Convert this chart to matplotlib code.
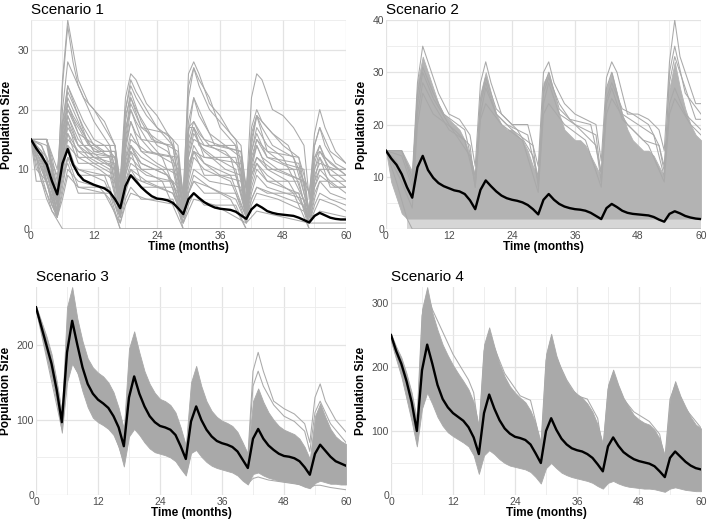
import matplotlib

matplotlib.use("Agg")
import matplotlib.pyplot as plt
from matplotlib.ticker import MultipleLocator

MONTHS = list(range(61))

# mean trajectories (black), one value per month
S1_MEAN = [15, 13.5, 12.3, 10.8, 8, 5.8, 11, 13.4, 10.8, 9.2, 8.2, 7.8, 7.4, 7.1, 6.8, 6.2, 5, 3.5,
           7.2, 9, 8, 7, 6.2, 5.5, 5.1, 5, 4.8, 4.4, 3.5, 2.5, 5, 6, 5.2, 4.5, 4, 3.6, 3.4, 3.3, 3.2,
           2.9, 2.3, 1.7, 3.3, 4.1, 3.6, 3.0, 2.7, 2.5, 2.4, 2.3, 2.2, 1.9, 1.5, 1.1, 2.2, 2.7, 2.3,
           1.9, 1.7, 1.6, 1.6]
S2_MEAN = [15, 13.5, 12.3, 10.5, 8, 6, 11.8, 14, 11.3, 9.8, 8.8, 8.2, 7.8, 7.4, 7.2, 6.7, 5.5, 3.8,
           7.5, 9.3, 8.2, 7.2, 6.4, 5.9, 5.6, 5.4, 5.1, 4.6, 3.8, 2.8, 5.6, 6.7, 5.6, 4.8, 4.3, 4.0,
           3.8, 3.7, 3.5, 3.1, 2.5, 1.9, 4.0, 4.8, 4.2, 3.5, 3.1, 2.9, 2.8, 2.7, 2.6, 2.3, 1.8, 1.4,
           2.9, 3.4, 3.0, 2.5, 2.2, 2.0, 1.9]
S3_MEAN = [250, 225, 200, 175, 140, 97, 190, 232, 200, 170, 148, 135, 127, 122, 116, 105, 90, 65,
           130, 158, 135, 118, 105, 97, 92, 90, 87, 80, 65, 48, 98, 118, 100, 87, 78, 72, 69, 67, 64,
           58, 47, 36, 75, 88, 75, 66, 60, 55, 52, 51, 49, 45, 37, 27, 55, 67, 59, 51, 45, 42, 39]
S4_MEAN = [250, 225, 205, 178, 145, 100, 195, 235, 205, 172, 150, 137, 128, 122, 116, 106, 90, 64,
           128, 157, 135, 117, 104, 96, 91, 89, 86, 79, 65, 50, 100, 120, 102, 88, 79, 73, 70, 68, 64,
           58, 48, 37, 76, 90, 77, 67, 61, 56, 53, 51, 49, 45, 37, 28, 58, 68, 60, 52, 46, 42, 40]

# dense part of the simulated runs (upper / lower edge per month)
S2_UPPER = [15, 15, 15, 15, 13, 11, 28, 33, 30, 27, 24, 22, 21, 20, 19, 17, 14, 10, 26, 30, 26, 22,
            20, 19, 19, 18, 17, 15, 12, 10, 28, 30, 26, 22, 19, 18, 17, 17, 16, 14, 12, 10, 27, 30,
            26, 22, 19, 17, 16, 15, 15, 14, 12, 10, 27, 32, 27, 23, 20, 18, 17]
S2_LOWER = [15, 9, 6, 3, 2, 2, 2, 2, 2, 2, 2, 2, 2, 2, 2, 2, 2, 2, 2, 2, 2, 2, 2, 2, 2, 2, 2, 2, 2,
            2, 2, 2, 2, 2, 2, 2, 2, 2, 2, 2, 2, 2, 2, 2, 2, 2, 2, 2, 2, 2, 2, 2, 2, 2, 2, 2, 2, 2, 2,
            2, 2]
S3_UPPER = [252, 232, 212, 188, 152, 110, 250, 277, 235, 205, 182, 170, 163, 158, 150, 137, 116, 88,
            195, 218, 190, 165, 148, 136, 128, 125, 120, 110, 90, 66, 150, 172, 145, 125, 112, 104, 99,
            96, 92, 84, 70, 55, 125, 142, 124, 110, 100, 92, 87, 84, 81, 75, 64, 48, 105, 122, 104, 88,
            78, 72, 68]
S3_LOWER = [246, 218, 188, 158, 124, 83, 150, 175, 163, 138, 117, 103, 97, 93, 88, 80, 64, 38, 78,
            88, 80, 70, 62, 57, 55, 53, 50, 45, 35, 26, 56, 60, 51, 44, 39, 36, 34, 32, 30, 26, 19, 14,
            28, 30, 26, 23, 21, 19, 18, 17, 16, 14, 11, 9, 16, 19, 17, 15, 15, 14, 14]
S4_UPPER = [252, 232, 215, 190, 160, 118, 290, 325, 285, 258, 235, 218, 203, 190, 178, 165, 145, 108,
            235, 262, 232, 205, 185, 170, 160, 152, 145, 132, 112, 82, 220, 252, 218, 195, 178, 165,
            158, 152, 143, 130, 110, 80, 172, 196, 172, 152, 138, 125, 118, 113, 110, 102, 88, 62, 150,
            178, 155, 138, 122, 110, 104]
S4_LOWER = [240, 212, 185, 150, 115, 76, 135, 160, 142, 122, 108, 98, 92, 87, 82, 76, 62, 33, 62, 70,
            64, 56, 50, 46, 44, 42, 40, 36, 28, 18, 42, 50, 42, 35, 31, 28, 26, 24, 22, 19, 14, 10, 19,
            22, 18, 15, 13, 12, 11, 10, 10, 9, 7, 5, 10, 12, 10, 8, 7, 6, 6]

# individual runs, (month, size) at the corners of each trajectory
S1_RUNS = [
    [(0, 15), (3, 15), (5, 6), (6, 25), (7, 35), (8, 30), (9, 25), (11, 21), (12, 20), (14, 17), (16, 14),
     (17, 8), (18, 22), (19, 26), (20, 25), (22, 21), (24, 19), (26, 16), (28, 14), (29, 5), (30, 26),
     (31, 28), (32, 26), (34, 21), (36, 19), (38, 16), (40, 14), (41, 6), (42, 22), (43, 26), (44, 25),
     (46, 20), (48, 19), (50, 17), (52, 14), (53, 5), (54, 16), (55, 20), (56, 17), (58, 13), (60, 11)],
    [(0, 15), (2, 14), (4, 9), (5, 5), (6, 20), (7, 28), (8, 26), (10, 22), (12, 18), (15, 14), (17, 6),
     (18, 20), (19, 25), (20, 23), (22, 20), (24, 17), (27, 14), (29, 4), (30, 22), (31, 27), (32, 25),
     (34, 22), (36, 17), (39, 14), (41, 5), (42, 17), (43, 20), (44, 18), (46, 16), (48, 14), (51, 12),
     (53, 3), (54, 14), (55, 17), (56, 14), (58, 11), (60, 10)],
    [(0, 15), (1, 14), (3, 10), (5, 4), (6, 17), (7, 24), (8, 22), (10, 18), (12, 15), (14, 14), (16, 12),
     (17, 5), (18, 16), (19, 22), (20, 20), (22, 17), (24, 14), (26, 13), (28, 10), (29, 3), (30, 16),
     (31, 22), (32, 19), (34, 16), (37, 14), (40, 12), (41, 4), (42, 16), (43, 19), (44, 17), (46, 14),
     (50, 12), (53, 3), (54, 11), (55, 14), (56, 12), (60, 9)],
    [(0, 15), (2, 12), (4, 6), (5, 3), (6, 16), (7, 23), (8, 21), (10, 17), (12, 14), (15, 12), (17, 4),
     (18, 14), (19, 20), (20, 18), (22, 15), (25, 12), (29, 3), (30, 15), (31, 18), (32, 16), (34, 14),
     (38, 12), (41, 3), (42, 12), (43, 15), (45, 13), (48, 11), (52, 10), (53, 2), (54, 10), (55, 13),
     (57, 10), (60, 8)],
    [(0, 15), (3, 15), (4, 12), (5, 8), (6, 15), (7, 21), (8, 19), (10, 16), (12, 13), (16, 12), (17, 4),
     (18, 13), (19, 18), (20, 16), (23, 13), (27, 11), (29, 2), (30, 13), (31, 17), (32, 14), (35, 12),
     (39, 10), (41, 2), (42, 10), (43, 14), (44, 12), (47, 10), (52, 8), (53, 2), (54, 8), (55, 12),
     (57, 9), (60, 7)],
    [(0, 15), (1, 12), (3, 8), (5, 2), (6, 13), (7, 20), (8, 18), (10, 14), (13, 12), (16, 10), (17, 3),
     (18, 12), (19, 16), (21, 13), (24, 11), (28, 9), (29, 2), (30, 12), (31, 16), (33, 13), (37, 10),
     (40, 9), (41, 2), (42, 9), (43, 12), (45, 10), (49, 8), (53, 2), (54, 7), (55, 10), (57, 8), (60, 6)],
    [(0, 15), (2, 10), (4, 5), (5, 2), (6, 11), (7, 18), (9, 14), (11, 12), (15, 10), (17, 2), (18, 10),
     (19, 14), (21, 12), (25, 10), (28, 7), (29, 2), (30, 10), (31, 14), (33, 11), (36, 9), (40, 8),
     (41, 2), (42, 7), (43, 10), (45, 8), (51, 6), (53, 1), (54, 5), (55, 8), (57, 6), (60, 5)],
    [(0, 15), (1, 13), (4, 8), (5, 4), (6, 10), (7, 16), (9, 13), (12, 11), (16, 9), (17, 3), (18, 9),
     (19, 13), (21, 11), (26, 9), (28, 6), (29, 2), (30, 8), (31, 12), (33, 10), (38, 8), (41, 2), (42, 6),
     (43, 9), (45, 7), (52, 5), (53, 1), (54, 4), (55, 6), (57, 5), (60, 4)],
    [(0, 15), (2, 11), (3, 8), (5, 3), (6, 9), (7, 14), (9, 12), (13, 10), (16, 8), (17, 2), (18, 8),
     (19, 11), (22, 9), (27, 8), (29, 2), (30, 7), (31, 10), (34, 8), (40, 7), (41, 2), (42, 5), (43, 7),
     (46, 6), (52, 4), (53, 1), (54, 3), (55, 5), (58, 4), (60, 3)],
    [(0, 15), (1, 10), (3, 8), (4, 4), (5, 2), (6, 7), (7, 12), (9, 10), (14, 8), (17, 2), (18, 6),
     (19, 9), (21, 8), (27, 6), (29, 2), (30, 6), (31, 8), (34, 7), (39, 5), (41, 1), (42, 4), (43, 6),
     (47, 5), (52, 3), (53, 1), (54, 2), (55, 3), (60, 2)],
    [(0, 15), (2, 9), (4, 3), (5, 2), (6, 6), (7, 10), (9, 8), (13, 7), (15, 5), (17, 0), (60, 0)],
    [(0, 15), (1, 11), (3, 5), (4, 3), (6, 0), (60, 0)],
    [(0, 15), (3, 14), (5, 5), (6, 12), (7, 19), (9, 15), (12, 12), (16, 11), (17, 3), (18, 9), (19, 12),
     (21, 10), (25, 8), (29, 0), (60, 0)],
    [(0, 15), (2, 13), (5, 3), (6, 8), (7, 12), (9, 10), (14, 9), (17, 2), (18, 7), (19, 10), (22, 8),
     (27, 6), (29, 2), (30, 6), (31, 9), (34, 7), (38, 5), (41, 0), (60, 0)],
    [(0, 15), (1, 14), (4, 7), (5, 3), (6, 12), (7, 17), (9, 14), (12, 12), (16, 10), (17, 3), (18, 10),
     (19, 14), (21, 11), (26, 9), (29, 2), (30, 9), (31, 13), (33, 11), (38, 9), (41, 2), (42, 8), (43, 11),
     (45, 9), (50, 6), (53, 0), (60, 0)],
    [(0, 15), (3, 15), (5, 7), (6, 24), (7, 34), (8, 28), (9, 24), (10, 22), (12, 20), (14, 18), (16, 14),
     (17, 7), (18, 20), (19, 24), (20, 22), (22, 19), (24, 17), (27, 15), (29, 6), (30, 24), (31, 27),
     (32, 24), (34, 20), (36, 18), (39, 15), (41, 7), (42, 15), (43, 19), (44, 18), (46, 16), (49, 14),
     (53, 6), (54, 14), (55, 17), (57, 13), (60, 11)],
    [(0, 15), (1, 8), (3, 8), (5, 2), (6, 13), (7, 22), (8, 20), (10, 16), (12, 13), (15, 13), (17, 5),
     (18, 18), (19, 23), (21, 18), (23, 15), (26, 14), (29, 4), (30, 17), (31, 17), (33, 14), (37, 13),
     (40, 10), (41, 3), (42, 13), (43, 17), (45, 14), (48, 12), (53, 3), (54, 12), (55, 13), (57, 11),
     (60, 9)],
    [(0, 15), (3, 15), (5, 10), (6, 18), (7, 20), (9, 17), (11, 14), (13, 13), (16, 13), (17, 6), (18, 15),
     (19, 21), (21, 17), (24, 15), (28, 13), (29, 4), (30, 17), (31, 18), (33, 15), (36, 14), (40, 13),
     (41, 4), (42, 11), (43, 15), (45, 12), (50, 10), (53, 2), (54, 9), (55, 11), (58, 10), (60, 10)],
    [(0, 15), (2, 12), (3, 9), (5, 5), (6, 10), (7, 15), (9, 13), (16, 12), (17, 4), (18, 11), (19, 15),
     (22, 13), (28, 12), (29, 3), (30, 11), (31, 13), (33, 12), (40, 11), (41, 3), (42, 10), (43, 12),
     (46, 10), (52, 8), (53, 2), (54, 7), (55, 9), (58, 7), (60, 7)],
    [(0, 15), (1, 12), (2, 8), (5, 2), (6, 5), (7, 9), (9, 7), (14, 6), (17, 1), (18, 4), (19, 6), (22, 5),
     (28, 4), (29, 1), (30, 3), (31, 5), (35, 4), (41, 1), (42, 2), (43, 3), (53, 1), (54, 1), (60, 1)],
    [(0, 15), (3, 15), (5, 5), (6, 14), (7, 19), (9, 14), (16, 14), (17, 5), (18, 17), (19, 20), (21, 15),
     (27, 14), (29, 3), (30, 12), (31, 15), (33, 14), (39, 14), (41, 3), (42, 11), (43, 14), (45, 10),
     (51, 10), (53, 2), (54, 8), (55, 10), (57, 10), (60, 10)],
    [(0, 15), (2, 12), (4, 4), (5, 3), (6, 15), (7, 18), (9, 12), (15, 12), (17, 3), (18, 12), (19, 14),
     (21, 10), (27, 10), (29, 2), (30, 10), (31, 13), (33, 9), (39, 9), (41, 2), (42, 9), (43, 11), (45, 8),
     (51, 8), (53, 1), (54, 6), (55, 8), (57, 8), (60, 8)],
    [(0, 15), (1, 13), (3, 8), (5, 2), (6, 12), (7, 16), (9, 11), (15, 11), (17, 2), (18, 10), (19, 13),
     (21, 8), (27, 8), (29, 1), (30, 6), (31, 8), (33, 6), (39, 6), (41, 1), (42, 5), (43, 7), (45, 6),
     (51, 6), (53, 0), (60, 0)],
    [(0, 15), (3, 15), (4, 11), (5, 9), (6, 12), (7, 14), (9, 9), (15, 9), (17, 2), (18, 8), (19, 10),
     (21, 7), (27, 7), (29, 0), (60, 0)],
    [(0, 15), (2, 13), (4, 8), (5, 6), (6, 9), (7, 11), (9, 6), (15, 6), (17, 0), (60, 0)],
    [(0, 15), (3, 15), (5, 4), (6, 16), (7, 21), (9, 16), (14, 13), (16, 13), (17, 8), (18, 19), (19, 22),
     (21, 17), (26, 16), (28, 12), (29, 6), (30, 18), (31, 22), (33, 18), (35, 14), (40, 13), (41, 7),
     (42, 14), (43, 19), (45, 13), (51, 12), (53, 6), (54, 12), (55, 14), (57, 9), (60, 9)],
    [(0, 15), (2, 14), (4, 10), (5, 7), (6, 9), (7, 12), (9, 7), (15, 7), (17, 1), (18, 5), (19, 7),
     (21, 5), (27, 5), (29, 1), (30, 4), (31, 6), (33, 4), (39, 4), (41, 0), (60, 0)],
    [(0, 15), (1, 14), (3, 12), (5, 2), (6, 18), (7, 24), (9, 19), (11, 14), (15, 14), (17, 6), (18, 14),
     (19, 18), (21, 13), (27, 12), (29, 4), (30, 14), (31, 17), (33, 12), (39, 12), (41, 4), (42, 13),
     (43, 16), (45, 12), (51, 11), (53, 3), (54, 10), (55, 12), (57, 7), (60, 7)],
]

S2_RUNS = [
    [(0, 15), (3, 15), (5, 10), (6, 28), (7, 35), (8, 32), (10, 26), (12, 22), (14, 21), (16, 18), (17, 12),
     (18, 28), (19, 32), (20, 28), (22, 22), (24, 20), (27, 20), (29, 12), (30, 30), (31, 32), (32, 28),
     (34, 24), (36, 22), (38, 21), (40, 20), (41, 13), (42, 29), (43, 32), (44, 30), (46, 22), (48, 22),
     (50, 21), (52, 19), (53, 15), (54, 32), (55, 40), (56, 33), (58, 27), (59, 24), (60, 24)],
    [(0, 15), (3, 14), (5, 8), (6, 24), (7, 30), (9, 25), (12, 20), (16, 14), (17, 8), (18, 22), (19, 27),
     (21, 22), (24, 19), (28, 16), (29, 8), (30, 24), (31, 28), (33, 22), (36, 20), (40, 18), (41, 10),
     (42, 27), (43, 30), (45, 22), (48, 20), (51, 18), (53, 10), (54, 30), (55, 35), (57, 26), (60, 22)],
    [(0, 15), (2, 13), (5, 6), (6, 22), (7, 28), (9, 24), (12, 19), (15, 17), (17, 9), (18, 24), (19, 28),
     (21, 22), (23, 20), (27, 18), (29, 9), (30, 26), (31, 29), (33, 24), (35, 21), (39, 20), (41, 11),
     (42, 25), (43, 28), (45, 23), (47, 22), (50, 20), (52, 16), (53, 12), (54, 28), (55, 33), (57, 27),
     (59, 21), (60, 21)],
    [(0, 15), (3, 15), (5, 9), (6, 26), (7, 31), (9, 26), (11, 22), (15, 19), (17, 10), (18, 25), (19, 29),
     (21, 23), (25, 19), (28, 14), (29, 10), (30, 27), (31, 30), (33, 23), (37, 19), (40, 16), (41, 9),
     (42, 24), (43, 27), (45, 21), (49, 17), (52, 16), (53, 11), (54, 24), (55, 27), (57, 22), (60, 19)],
    [(0, 15), (1, 13), (3, 9), (5, 4), (6, 20), (7, 26), (9, 22), (13, 19), (16, 16), (17, 8), (18, 21),
     (19, 24), (22, 20), (26, 17), (29, 7), (30, 22), (31, 24), (34, 20), (38, 17), (41, 8), (42, 22),
     (43, 25), (46, 20), (50, 16), (53, 9), (54, 22), (55, 25), (58, 20), (60, 18)],
    [(0, 15), (2, 9), (4, 2), (5, 0), (60, 0)],
]

S3_RUNS = [
    [(0, 250), (5, 100), (7, 230), (12, 130), (17, 60), (19, 150), (24, 95), (29, 50), (31, 120), (36, 80),
     (41, 50), (42, 165), (43, 190), (44, 165), (46, 125), (48, 115), (50, 108), (52, 95), (53, 70),
     (54, 130), (55, 148), (56, 125), (58, 100), (60, 84)],
    [(0, 250), (5, 98), (7, 228), (12, 128), (17, 62), (19, 155), (24, 92), (29, 48), (31, 115), (36, 78),
     (41, 45), (42, 145), (43, 165), (44, 145), (46, 120), (48, 105), (50, 98), (52, 85), (53, 58),
     (54, 110), (55, 125), (57, 95), (60, 70)],
    [(0, 248), (5, 88), (6, 160), (7, 178), (9, 150), (12, 100), (15, 85), (17, 45), (18, 80), (19, 90),
     (21, 75), (24, 58), (27, 48), (29, 28), (30, 55), (31, 62), (33, 48), (36, 38), (39, 30), (41, 15),
     (42, 22), (43, 24), (45, 20), (48, 17), (51, 14), (53, 10), (54, 13), (55, 13), (57, 10), (60, 7)],
]

S4_RUNS = [
    [(0, 250), (5, 110), (6, 280), (7, 315), (8, 290), (10, 255), (12, 220), (15, 180), (16, 160),
     (17, 100), (18, 225), (19, 255), (20, 230), (22, 190), (25, 155), (27, 148), (28, 115), (29, 75),
     (30, 210), (31, 245), (32, 215), (34, 180), (36, 155), (38, 150), (40, 120), (41, 70), (42, 165),
     (43, 190), (45, 150), (47, 130), (50, 115), (52, 95), (53, 55), (54, 150), (55, 172), (57, 135),
     (60, 105)],
]

PANELS = [
    ("Scenario 1", S1_MEAN, None, None, S1_RUNS, 35, 10),
    ("Scenario 2", S2_MEAN, S2_UPPER, S2_LOWER, S2_RUNS, 40, 10),
    ("Scenario 3", S3_MEAN, S3_UPPER, S3_LOWER, S3_RUNS, 277, 100),
    ("Scenario 4", S4_MEAN, S4_UPPER, S4_LOWER, S4_RUNS, 325, 100),
]

# axes rectangles in figure fractions
AX_RECTS = [
    (0.0437, 0.5646, 0.4443, 0.3973),
    (0.5444, 0.5646, 0.4443, 0.3973),
    (0.0508, 0.0589, 0.4372, 0.3954),
    (0.5515, 0.0589, 0.4372, 0.3954),
]

GREY = "#A9A9A9"
BAND_GREY = {"Scenario 2": "#B3B3B3", "Scenario 3": "#A9A9A9", "Scenario 4": "#A9A9A9"}


def style_axis(ax, ymax, ystep):
    ax.set_xlim(0, 60)
    ax.set_ylim(0, ymax)
    ax.xaxis.set_major_locator(MultipleLocator(12))
    ax.xaxis.set_minor_locator(MultipleLocator(6))
    ax.yaxis.set_major_locator(MultipleLocator(ystep))
    ax.yaxis.set_minor_locator(MultipleLocator(ystep / 2))
    ax.grid(which="major", color="#E3E3E3", linewidth=0.9)
    ax.grid(which="minor", color="#EBEBEB", linewidth=0.6)
    ax.set_axisbelow(True)
    for s in ax.spines.values():
        s.set_visible(False)
    ax.tick_params(which="both", length=0, pad=1.5, labelsize=7.5, labelcolor="#4D4D4D")
    ax.set_xlabel("Time (months)", fontsize=8.5, fontweight="bold", labelpad=0)
    ax.set_ylabel("Population Size", fontsize=8.5, fontweight="bold", labelpad=3)


def main():
    plt.rcParams.update({"font.family": ["Liberation Sans", "DejaVu Sans"]})
    fig = plt.figure(figsize=(7.09, 5.26), dpi=100)

    for rect, (title, mean, upper, lower, runs, ymax, ystep) in zip(AX_RECTS, PANELS):
        ax = fig.add_axes(rect)
        if upper is not None:
            band = BAND_GREY[title]
            if title == "Scenario 2":
                # thin runs dying out below the dense core
                floor = [v <= 2 for v in lower]
                ax.fill_between(MONTHS, 0, lower, where=floor, color="#D6D6D6", linewidth=0, zorder=2)
            ax.fill_between(MONTHS, lower, upper, color=band, linewidth=0.6, edgecolor=band, zorder=2)
        for run in runs:
            xs, ys = zip(*run)
            ax.plot(xs, ys, color=GREY, linewidth=0.75, zorder=2)
        ax.plot(MONTHS, mean, color="black", linewidth=1.7, zorder=3, solid_joinstyle="round")
        style_axis(ax, ymax, ystep)
        ax.set_title(title, loc="left", fontsize=11, pad=4)

    fig.savefig("out.png", dpi=100)


if __name__ == "__main__":
    main()
